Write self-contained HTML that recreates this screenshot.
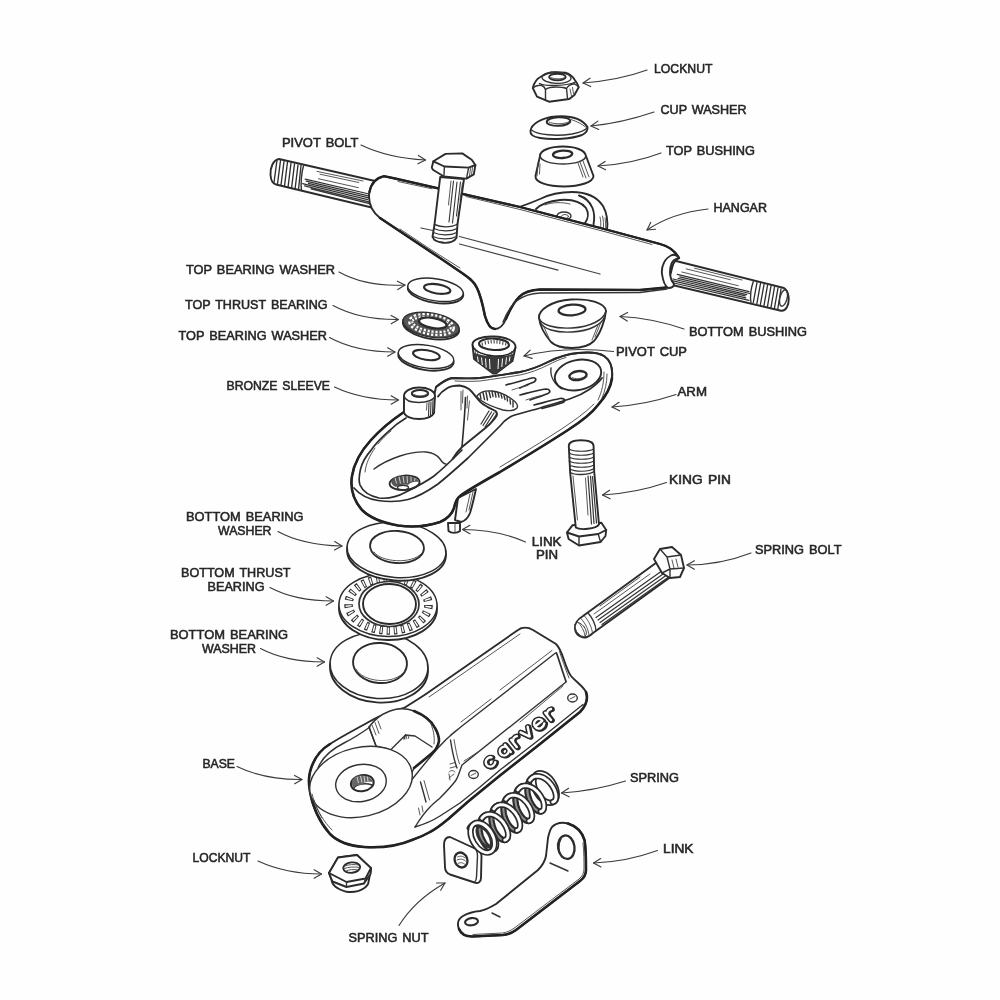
<!DOCTYPE html>
<html><head><meta charset="utf-8"><title>Truck exploded view</title>
<style>
html,body{margin:0;padding:0;background:#fefefe;}
body{width:1000px;height:1000px;overflow:hidden;font-family:"Liberation Sans",sans-serif;}
svg{display:block}
.t text{font-family:"Liberation Sans",sans-serif;font-size:12.6px;fill:#262626;stroke:#262626;stroke-width:.55px;word-spacing:1.5px;}
.a path{fill:none;stroke:#3c3c3c;stroke-width:1.15;stroke-linecap:round;stroke-linejoin:round}
.o{fill:none;stroke:#2b2b2b;stroke-width:1.9;stroke-linecap:round;stroke-linejoin:round}
.f{fill:#fefefe;stroke:#2b2b2b;stroke-width:1.9;stroke-linecap:round;stroke-linejoin:round}
.m{fill:none;stroke:#333;stroke-width:1.4;stroke-linecap:round;stroke-linejoin:round}
.fm{fill:#fefefe;stroke:#333;stroke-width:1.4;stroke-linecap:round;stroke-linejoin:round}
.h{fill:none;stroke:#444;stroke-width:.9;stroke-linecap:round;stroke-linejoin:round}
.k{fill:none;stroke:#222;stroke-width:2.6;stroke-linecap:round;stroke-linejoin:round}
.d{fill:#3a3a3a;stroke:none}
</style></head><body>
<svg width="1000" height="1000" viewBox="0 0 1000 1000">
<rect width="1000" height="1000" fill="#fefefe"/>
<!-- 10_hangar.svg -->
<g id="hangar">
<!-- bushing seat behind top edge -->
<path class="f" d="M516,208 C526,205 533,202 540,199 C550,194 560,192 572,192 C586,192 597,197 603,206 C607,213 608,222 607,231 L560,222 Z"/>
<path class="o" d="M536,209 C541,204 550,201 560,200 C572,199 581,202 586,208 C589,213 588,219 585,223"/>
<path class="o" d="M579,195.500 C585,197.500 590,202 592.500,208 C594.500,213 594.500,219 593.500,224.500"/>
<path class="h" d="M600,217 C601,221 601,225 600.500,228 M602.500,216 C603.500,220 603.800,225 603.300,229 M605,218 C605.800,222 605.800,226 605.500,230"/>
<path class="h" d="M545,205 C552,202 562,202 570,204"/>
<ellipse class="m" cx="564" cy="216" rx="7" ry="4"/>
<ellipse class="h" cx="565" cy="216.5" rx="3.5" ry="2"/>
<!-- left axle -->
<path class="f" d="M279,159 C273,160 270,168 270.500,175 C271,181 273,184 276,184.500 L380,209.500 L386,183.500 Z"/>
<path d="M277,160l-3,22.500 M280.500,160.500l-3,23.500 M284,161.500l-3,23.500 M287.500,162l-3,24 M291,163l-3,24.500 M294.500,164l-3,24.500 M298,165l-3,24.500 M301,165.500l-2.500,24" style="fill:none;stroke:#2e2e2e;stroke-width:1.35;stroke-linecap:round"/>
<path class="m" d="M303.500,166 C301.500,172 300.500,184 301.500,190.500"/>
<path d="M305.2,179.2 L371.2,194.5 M306.2,181.1 L370.3,196.3 M308.4,183.4 L374.9,199.4 M302.6,183.7 L367.6,199.6 M304.6,185.9 L372.8,202.9 M311.1,188.8 L370.4,203.8" style="fill:none;stroke:#333;stroke-width:1.25;stroke-linecap:round"/><path class="h" d="M317.0,171.4 L363.0,181.0 M320.0,174.2 L358.8,182.5 M318.4,178.7 L358.4,187.7"/>
<!-- right axle -->
<path class="f" d="M674,260.500 L784,288 C789,291 790,301 787,307 C785,310.500 783,311.500 780,310.500 L668,284 Z"/>
<path d="M757,282.500l-3.700,20 M760.500,283.500l-3.700,20.500 M764,284.500l-3.700,20.500 M767.500,285.500l-3.700,21 M771,286l-3.700,21.500 M774.500,287l-3.700,21.500 M778,288l-3.700,21 M781,289l-3.300,20.500" style="fill:none;stroke:#2e2e2e;stroke-width:1.35;stroke-linecap:round"/>
<path class="m" d="M753.500,281 C751,288 750,297 751,303"/>
<ellipse class="m" cx="783.500" cy="298" rx="3.600" ry="8.400" transform="rotate(14 783.500 298)"/>
<path d="M677.3,274.4 L749.1,291.6 M679.8,276.9 L749.8,293.5 M678.1,278.4 L746.8,294.6 M672.9,279.0 L745.3,295.9 M672.0,280.7 L745.8,297.8 M671.7,282.5 L749.0,300.3" style="fill:none;stroke:#333;stroke-width:1.25;stroke-linecap:round"/><path class="h" d="M694.5,268.2 L742.0,280.0 M686.2,268.9 L730.2,279.7 M681.8,272.0 L738.2,285.7"/>
<!-- body -->
<path class="f" d="M384,176.200 L395,178.500 L520,207 L608,230 L660,244 C668,246 675,251 679,258 C672,262 668,274 670,285 C668,287 667,287 664,288 L640,290 L540,289.500 C530,290 524,292 519,297 C513,303 509,312 506,319 C503,326 499,329 495,329 C490,329 487,323 485,316 C483,306 481,296 477,288 C474,281 468,277 462,273 L440,258 L380,218 C373,212.500 369,205 369,196.500 C369,187 374,178.500 384,176.200 Z"/>
<path class="k" d="M380,218 L440,258 L462,273 C468,277 474,281 477,288 C481,296 483,306 485,316 C487,323 490,329 495,329"/>
<path class="h" d="M400,229 L430,249 L460,268"/>
<path class="k" d="M369.500,192 C371,184 376,178 384,176.200 L395,178.500 L520,207 L608,230 L660,244 C668,246 675,251 679,258" style="stroke-width:2.3"/>
<path class="k" d="M506,319 C509,312 513,303 519,297 C524,292 530,290 540,289.500 L640,290 L666,287.500" style="stroke-width:2.3"/>
<path class="m" d="M503,322 C507,312 512,304 518,300 C524,295.500 531,293.500 540,293 L640,292.500 L667,289"/>
<!-- collar -->
<path class="f" d="M672,255 C665,258 661,266 662,274 C663,281 665,286 668,288 C672,288 674,286 674,284 C670,280 669,272 671,265 C672,261 675,259 679,258 C677,255 675,254 672,255 Z"/>
<!-- face lines -->
<path class="h" d="M421,228 L433,230.500 M459.500,236.500 L520,252.500 L600,274" style="stroke-width:1.25"/>
<path class="h" d="M459.500,244 L558,270.200" style="stroke-width:1.25"/>
<path class="h" d="M398,181.500 L432,188.800 M466,196.500 L520,209.500 L608,232.500 L652,244.500"/>
</g>

<!-- 20_topparts.svg -->
<g id="pivotbolt">
<!-- shaft -->
<path class="f" d="M440.200,177 L434.500,224.500 L432.500,237 C435,243 450,246 456.500,238 L457.500,224 L464,179 Z"/>
<path class="m" d="M434.500,224.500 C441,227.500 451,228 457.500,224"/>
<path d="M433.800,228.500 C440,231.500 451,232 457,228.500 M433.300,232.500 C440,235.500 450,236 456.800,232.500 M432.800,236.500 C439,239.500 450,240 456.500,236.500 M434,240 C440,243 449,243.500 455,240.500" style="fill:none;stroke:#333;stroke-width:1.150;stroke-linecap:round"/>
<path d="M453.500,181 L449,222 M457,182 L452.500,223 M460.500,182 L456.500,216" style="fill:none;stroke:#333;stroke-width:1.100;stroke-linecap:round"/>
<path class="h" d="M451,181 L448.500,205 M462.500,183 L460,200"/>
<!-- head -->
<path class="f" d="M431.800,167.600 L433.400,161.300 L445.500,153.900 L462.300,153.400 L471.700,159.700 L475.400,165 L473.800,174.400 L466.500,178.600 L443.900,176.500 L432.900,169.700 Z"/>
<path class="o" d="M433.400,161.300 L444.400,166.500 L468.600,167.600 L475.400,165"/>
<path class="m" d="M444.400,166.500 L443.900,176.500 M468.600,167.600 L466.500,178.600"/>
<path class="h" d="M470.500,168.500 L469.500,176 M472.500,167.500 L471.500,175"/>
</g>
<g id="locknut1">
<path class="f" d="M532.800,88 C534,82 538,78 542,76 C546,73.500 550,72.500 554,72.300 L566,72.800 C570,74 573,77 574.500,79.500 C576.500,82 578,85 578.700,87.200 L574.400,95 L569.300,99 L549,101.700 L537,96.600 Z"/>
<path class="m" d="M539.500,83.500 C545,86.500 568,86 575.500,82"/>
<path class="m" d="M532.800,88 C535,86 539,85 542,85.500 C544,86.500 545,88 545.500,89.500 L545.500,100.500"/>
<path class="m" d="M545.500,89.500 C548,87.500 552,87 556,87 C560,87 564,87.500 566.500,88.500 L567.600,99"/>
<path class="m" d="M566.500,88.500 C568,86 571,84 574.500,83.800 C576,84.500 578,86 578.700,87.200"/>
<ellipse class="m" cx="556.500" cy="77.800" rx="14.500" ry="5.600" transform="rotate(2 556.500 77.800)"/>
<ellipse class="o" cx="557.400" cy="77" rx="8.300" ry="3.300"/>
<path class="h" d="M551,77.500 C553,79 561,79.500 564,77.800"/>
<path class="h" d="M570,89 l1.500,7 M572.500,87.500 l1,6"/>
</g>
<g id="cupwasher">
<path class="f" d="M530.500,131 C531,124 542,117.500 556,116.500 C570,115.500 582,119 587.500,127 C588,130 586,133 582,135 C572,139 552,140 540,138 C534,137 530,134.500 530.500,131 Z"/>
<path class="m" d="M531.500,130 C538,135 556,136.500 572,134 C580,132.500 586,130 587.500,127"/>
<ellipse class="o" cx="558.500" cy="121.500" rx="11.800" ry="4.300" transform="rotate(-2 558.500 121.500)"/>
<path class="h" d="M571,119.500 C577,121.500 582,124 585.500,127"/>
<path class="h" d="M549,122 C553,124.500 565,124.500 569.500,121.500"/>
</g>
<g id="topbushing">
<path class="f" d="M540,156 C540,150 551,146.500 563,146.500 C575,146.500 585,150 586,156 L593.500,176 C593.500,182 580,186.500 564,186.500 C548,186.500 535,182.500 535.500,176 Z"/>
<path class="m" d="M540,156 C541,161 551,164 563,164 C575,164 585,161 586,156"/>
<ellipse class="o" cx="562.600" cy="154.300" rx="9.600" ry="3.700" transform="rotate(-4 562.600 154.300)" style="stroke-width:2.3"/>
<path class="h" d="M580,162 L586,178 M583,161 L589,177 M578,163 L583,177 M538,163 L537,176 M540,164 L539.500,174"/>
</g>
<g id="bottombushing">
<path class="f" d="M539,318 C538,310 552,300.500 571,299.500 C590,298.500 605,303 606,311 C605,321 600,334 594,341 C589,346 580,348 572,348 C563,348 555,346 551,342 C545,335 540,326 539,318 Z"/>
<path class="m" d="M539,318 C541,325 555,329 572,328 C590,327 604,320 606,311"/>
<path class="m" d="M540,322 C543,329 556,333 572,332 C589,331 602,325 605,316"/>
<ellipse class="o" cx="572" cy="310" rx="13.500" ry="5.300" transform="rotate(-4 572 310)" style="stroke-width:2.2"/>
<path class="h" d="M598,325 L592,340 M601,322 L595,337 M543,325 L549,338"/>
</g>
<g id="pivotcup">
<path class="f" d="M472.500,345 C472,339.500 482,336 494,336.500 C506,337 516,341 515.500,347.500 L512.500,361 L496,373.500 L493,373.500 L474,359 Z"/>
<path class="d" d="M473,352 L474,359 L493,373.500 L496,373.500 L512.500,361 L514.500,353 C508,357.500 482,357.500 473,352 Z"/>
<path class="m" d="M472.500,345 C474,352 485,355.500 494,356 C504,356.500 514,354 515.500,347.500" style="stroke:#222"/>
<ellipse cx="494" cy="344.300" rx="15" ry="5.700" transform="rotate(3 494 344.300)" style="fill:#fefefe;stroke:#2b2b2b;stroke-width:2.1"/>
<path d="M482,342.500l.5,3 M485,341l.5,3.500 M488,340.300l.5,3.500 M491,340l.3,3.500 M494,340l.2,3.500 M497,340.200l0,3.500 M500,340.600l-.2,3.500 M503,341.300l-.3,3.500 M506,342.500l-.5,3" style="fill:none;stroke:#333;stroke-width:1"/>
<path d="M477.500,356.500l.800,5.500 M481.500,357.500l.800,7.500 M485.500,358.500l.700,9 M489.500,359l.5,10 M498.500,359l-.500,10 M502.500,358.500l-.700,8.500 M506.500,357.500l-.800,7 M510,356.500l-.800,5" style="stroke:#fefefe;stroke-width:1;fill:none"/>
<path class="h" d="M475,348.500l.500,5 M477.500,350.500l.300,4.500 M511.500,351.500l-.300,4.500 M513.500,350l-.500,5"/>
</g>
<g id="topwashers">
<!-- washer 1 -->
<ellipse class="f" cx="435.500" cy="291.500" rx="28" ry="11.300" transform="rotate(9 435.500 291.500)"/>
<ellipse class="f" cx="435.500" cy="289.800" rx="28" ry="11" transform="rotate(9 435.500 289.800)" style="stroke-width:1.4"/>
<ellipse class="o" cx="437.200" cy="288.900" rx="13.300" ry="4.600" transform="rotate(9 437.200 288.900)" style="stroke-width:2.1"/>
<!-- thrust bearing -->
<ellipse class="f" cx="431" cy="326.500" rx="28.500" ry="12.300" transform="rotate(10 431 326.500)"/>
<ellipse cx="431" cy="325" rx="28.500" ry="12" transform="rotate(10 431 325)" style="fill:#555;stroke:#2b2b2b;stroke-width:1.4"/>
<ellipse cx="431.500" cy="324.600" rx="21" ry="8.300" transform="rotate(10 431.500 324.600)" style="fill:none;stroke:#fefefe;stroke-width:5.4;stroke-dasharray:2.2 1.9"/>
<ellipse cx="431.500" cy="324.600" rx="21" ry="8.300" transform="rotate(10 431.500 324.600)" style="fill:none;stroke:#555;stroke-width:.9;stroke-dasharray:2.2 1.9"/>
<ellipse cx="432.800" cy="323" rx="14" ry="5" transform="rotate(10 432.800 323)" style="fill:#fefefe;stroke:#2b2b2b;stroke-width:2.2"/>
<!-- washer 2 -->
<ellipse class="f" cx="426" cy="358.500" rx="28" ry="11.500" transform="rotate(9 426 358.500)"/>
<ellipse class="f" cx="426" cy="356.500" rx="28" ry="11.300" transform="rotate(9 426 356.500)" style="stroke-width:1.4"/>
<ellipse class="o" cx="426.400" cy="355" rx="13.500" ry="4.800" transform="rotate(9 426.400 355)" style="stroke-width:2.1"/>
</g>

<!-- 25_base.svg -->
<g id="base">
<!-- silhouette -->
<path class="f" d="M518,630 C522,627 528,627 533,630 L556,644 C560,648 562,654 564,660 C566,666 568,672 571,676 C576,682 583,686 586,692 C588,698 587,705 580,712 L540,744 L500,775.500 L470,800 C460,808.500 452,816 447,820 C441,825 436,829 430,832 C424,835.500 418,838 412,840 C398,846 380,848 364,847 C350,846 338,842 330,834 C322,826 316,814 312,802 C309,792 308,782 310,772 C313,760 320,750 330,744 C344,735 360,727 376,718 C386,713 396,710 404,708 C412,703 420,698 426,694 Z"/>
<!-- heavier bottom/right outline -->
<path class="k" d="M310,790 C312,804 318,820 330,834 C338,842 350,846 364,847 C380,848 398,846 412,840 C418,838 424,835.500 430,832 C436,829 441,825 447,820 C452,816 460,808.500 470,800 L500,775.500 L540,744 L580,712 C587,705 588,698 586,692"/>
<path class="k" d="M330,744 C320,750 313,760 310,772 C308,780 309,786 310,790" stroke-width="2"/>
<!-- top-left edge double -->
<path class="h" d="M429,697 L520,634"/>
<!-- flange thin bottom line -->
<path class="m" d="M415,827 C425,824 433,820.500 440,816 L460,803 L480,787 L500,770 L540,739 L583,704.500"/>
<!-- top face ridge, continuing into wall top edge -->
<path class="m" d="M555.500,653 L462,726 C456,731 452,734 450,736 C444,741 441,745 438,748 C430,757 422,767 414,777 C406,787 398,796 391,803"/>
<path class="h" d="M461,722 L491,699 M500,690 L552,650.500"/>
<!-- lower ridge and S-curve -->
<path class="m" d="M566,682 L462,765 C461,768 460,770 459.500,772 C458,776 457,779 455,781.500 C450,788 444,794 440,798 C436,801.500 433,804 430,807 C425,812 420,819 415,827"/>
<path class="h" d="M464,761 L478,752 M520,722 L563,686"/>
<path class="o" d="M556.500,653 C559,660 562,670 566,681.500" style="stroke-width:1.700"/>
<path class="h" d="M559.500,651.500 C562,659 565,668 569,678"/>
<!-- front-left vertical edge double lines -->
<path class="m" d="M450.500,740 C452,750 454,760 457,768"/>
<path class="h" d="M454,739.500 C455.500,748 457,757 459.500,764"/>
<path class="h" d="M450,764 l5,-1.500 M450,768 l6,-1.500 M449,772 c2,-2 4,-2 6,0 M449,778 l5,-4 M449,774 l1,6"/>
<!-- side face hatch -->
<path class="m" d="M420.500,782 L426,802"/>
<path class="h" d="M424,780.500 L429.500,800 M418.500,808 L420,815 M422,806 L423,812"/>
<!-- screws -->
<ellipse class="m" cx="572.500" cy="698" rx="4.800" ry="4"/>
<path class="h" d="M570,699 L575,696.500"/>
<ellipse class="m" cx="473.500" cy="774.500" rx="4.800" ry="4"/>
<path class="h" d="M471,775.500 L476,773"/>
<!-- carver lettering (outlined strokes) -->
<g transform="translate(490.500,762) rotate(-38.500) scale(1.05,1)" fill="none" stroke-linecap="round" stroke-linejoin="round">
<g stroke="#2b2b2b" stroke-width="5.200">
<path d="M3.500,-3 A4.600,4.600 0 1 0 3.500,3"/>
<path d="M21,0 A4.300,4.300 0 1 0 12.400,0 A4.300,4.300 0 1 0 21,0 M21,-4.500 L21,4.800"/>
<path d="M28.500,-4.500 L28.500,4.800 M28.500,-1 C29.500,-4.500 33,-5 35,-3.800"/>
<path d="M40,-4.500 L44.300,4.500 L48.600,-4.500"/>
<path d="M54.300,0 L63,0 C63,-6 54.300,-6 54.300,0 C54.300,6 60.500,6 63,3.200"/>
<path d="M70,-4.500 L70,4.800 M70,-1 C71,-4.500 74.500,-5 76.500,-3.800"/>
</g>
<g stroke="#2b2b2b" stroke-width="5.200" transform="translate(.6,1.100)">
<path d="M3.500,-3 A4.600,4.600 0 1 0 3.500,3"/>
<path d="M21,0 A4.300,4.300 0 1 0 12.400,0 A4.300,4.300 0 1 0 21,0 M21,-4.500 L21,4.800"/>
<path d="M28.500,-4.500 L28.500,4.800 M28.500,-1 C29.500,-4.500 33,-5 35,-3.800"/>
<path d="M40,-4.500 L44.300,4.500 L48.600,-4.500"/>
<path d="M54.300,0 L63,0 C63,-6 54.300,-6 54.300,0 C54.300,6 60.500,6 63,3.200"/>
<path d="M70,-4.500 L70,4.800 M70,-1 C71,-4.500 74.500,-5 76.500,-3.800"/>
</g>
<g stroke="#fefefe" stroke-width="2.300">
<path d="M3.500,-3 A4.600,4.600 0 1 0 3.500,3"/>
<path d="M21,0 A4.300,4.300 0 1 0 12.400,0 A4.300,4.300 0 1 0 21,0 M21,-4.500 L21,4.800"/>
<path d="M28.500,-4.500 L28.500,4.800 M28.500,-1 C29.500,-4.500 33,-5 35,-3.800"/>
<path d="M40,-4.500 L44.300,4.500 L48.600,-4.500"/>
<path d="M54.300,0 L63,0 C63,-6 54.300,-6 54.300,0 C54.300,6 60.500,6 63,3.200"/>
<path d="M70,-4.500 L70,4.800 M70,-1 C71,-4.500 74.500,-5 76.500,-3.800"/>
</g>
</g>
<!-- cavity -->
<path class="fm" d="M369,727 C374,720 382,714 390,711 C398,708 406,708 414,711 C424,715 431,720 435,728 C438,733 439,737 439,741 C438,747 435,751 431,754 C425,759 419,764 414,768 C413,770 412,772 412,774 L404,762 C398,754 386,748 376,746 Z"/>
<path class="k" d="M414,711 C424,715 431,720 435,728 C438,733 439,737 439,741 C438,747 435,751 431,754 C425,759 419,764 414,768" stroke-width="2.800"/>
<path class="m" d="M390,750.500 L405.500,735 L415,736 L432,747"/>
<path class="m" d="M405.500,735 L404,739"/>
<path class="h" d="M407,735.500 l-1,3.500 M409,735.800 l-.8,2.800"/>
<path class="h" d="M430,722 C433,728 435,736 434,744"/>
<path class="m" d="M369,727 L376,746"/>
<path class="h" d="M372,725 l4,10 M375,722.500 l4,11 M378,721 l3,8"/>
<!-- outer rim line -->
<path class="m" d="M318,768 C322,758 332,749 344,743 C354,738 363,732 370,727"/>
<!-- top disk -->
<ellipse class="fm" cx="361" cy="782" rx="52" ry="34.500" transform="rotate(-13 361 782)" stroke-width="1.600"/>
<ellipse class="m" cx="361" cy="783" rx="25.500" ry="18.500" transform="rotate(-10 361 783)"/>
<ellipse class="o" cx="362.300" cy="783.200" rx="11.500" ry="8" transform="rotate(-10 362.300 783.200)" style="stroke-width:2"/>
<path class="m" d="M354,787.500 C357,784 366,782.500 372,785"/>
<path d="M352,781 C353,777 358,775 363,775.500 C368,776 372,778.500 373,782 C368,781 364,782 361,785 C357,784.500 354,786 353,787.500 C352,785.500 351.500,783 352,781 Z" style="fill:#666;stroke:none"/>
<path d="M357,777l1.500,6 M360.500,776l1.500,6.500 M364,776l1,7 M367.500,777l.5,5" style="fill:none;stroke:#fefefe;stroke-width:.7"/>
<!-- left wall hatch -->
<path class="h" d="M314,800 C318,812 324,822 332,830 M312,794 C314,802 318,812 322,818"/>
</g>

<!-- 27_bottom.svg -->
<g id="bwasher2">
<ellipse class="f" cx="379" cy="669" rx="49" ry="33.500" transform="rotate(4 379 669)"/>
<ellipse class="f" cx="379" cy="665.500" rx="49" ry="33" transform="rotate(4 379 665.500)" style="stroke-width:1.5"/>
<ellipse class="o" cx="380" cy="663" rx="27" ry="20" transform="rotate(4 380 663)"/>
<path class="h" d="M356,669 C362,682 394,686 405,671"/>
</g>
<g id="bthrust">
<ellipse class="f" cx="388" cy="608.500" rx="49" ry="31.500" transform="rotate(1 388 608.500)"/>
<ellipse class="f" cx="388" cy="605" rx="49" ry="31.500" transform="rotate(1 388 605)" style="stroke-width:1.4"/>
<ellipse cx="388.500" cy="604.500" rx="40" ry="26" transform="rotate(1 388.500 604.500)" style="fill:none;stroke:#333;stroke-width:8.6;stroke-dasharray:3.2 4"/>
<ellipse cx="388.500" cy="604.500" rx="40" ry="26" transform="rotate(1 388.500 604.500)" style="fill:none;stroke:#fefefe;stroke-width:6;stroke-dasharray:1.4 5.8;stroke-dashoffset:-.9"/>
<ellipse class="fm" cx="389" cy="604" rx="30" ry="22.500" transform="rotate(1 389 604)" style="stroke-width:1.7"/>
<ellipse class="o" cx="389.500" cy="604" rx="26.500" ry="20" transform="rotate(1 389.500 604)"/>
</g>
<g id="bwasher1">
<ellipse class="f" cx="396.500" cy="553" rx="49.500" ry="27.500" transform="rotate(4 396.500 553)"/>
<ellipse class="f" cx="396.500" cy="550" rx="49.500" ry="27.500" transform="rotate(4 396.500 550)" style="stroke-width:1.5"/>
<ellipse class="o" cx="397" cy="547" rx="27" ry="16" transform="rotate(4 397 547)"/>
<path class="h" d="M374,552 C380,562 412,565 422,553"/>
</g>

<!-- 30_arm.svg -->
<g id="arm">
<!-- back leg + link pin (behind) -->
<path class="f" d="M458,498 L476,489 C474,498 472,507 470,513 C468,518 465,521 461,522 L455,520 Z"/>
<path class="h" d="M470,494 L466,512 M473,492 L469,510"/>
<path class="f" d="M448,523 L448.500,531 C451,533.500 457,533.500 460,531 L460,523 Z"/>
<path class="h" d="M455,524 L455,532"/>
<!-- whole silhouette -->
<path class="f" d="M404,412 C392,420 380,430 371,440 C361,451 354,463 352,476 C350,489 354,501 362,510 C370,518 384,523 398,525.500 C412,527.500 428,526 440,522 C447,519 452,514 454,508 C455,503 456,499 460,496 C468,490 484,481 500,472 C520,460 545,445 568,430 C582,421 592,413 598,405 C606,396 611,387 612,378 C613,368 610,360 604,356 C598,352 588,352 578,353 C566,354 556,358 548,362 C540,366 530,370 520,372 C508,374 494,376 480,378 C470,379 460,378 452,378 C446,379 441,383 436,387 L434,396 L404,397 Z"/>
<!-- heavy outline bottom -->
<path class="k" d="M404,412 C392,420 380,430 371,440 C361,451 354,463 352,476 C350,489 354,501 362,510 C370,518 384,523 398,525.500 C412,527.500 428,526 440,522 C447,519 452,514 454,508 C455,503 456,499 460,496 C468,490 484,481 500,472 C520,460 545,445 568,430 C582,421 592,413 598,405 C606,396 611,387 612,378"/>
<!-- top surface front rim (outer) -->
<path class="o" style="stroke-width:1.7" d="M354,488 C360,495 368,499 378,500.500 C388,502 398,502 408,499.500 C418,497 428,491 438,484 C448,476 458,467 468,458 C478,448 490,436 500,426 C504,421 508,418 512,416 C520,413 530,411 540,408 C552,404 562,402 572,398 C584,394 596,386 602,378"/>
<!-- inner rim -->
<path class="o" style="stroke-width:1.7" d="M406,418 C399,422 393,427 388,431.800 C381,438 375,444 371,450.400 C365,457 362,463 360.400,469.600 C359,476 358.500,481 360,485 C363,492 370,496 379,498 C388,499 397,497 406,492 C416,487 426,482 434,476 C444,468 452,460 462,450"/>
<!-- back rim inner line -->
<path class="o" d="M438,396.500 C441,392 444,390 447.500,388 C451,386 455,385.500 459.500,385.500 C463,386 466,387 469,389 C472,391.500 474,394.500 476.500,397.500 C479,401 482,404 486,406 C489,408 493,409.500 495.500,411 C497,412.500 497.500,414 496.500,416 C494,420 490,424 486,427.500 C478,434 470,440.500 462,447 C458,451 455,455 452.500,459"/>
<!-- bowl -->
<path class="m" d="M374,469 C382,463 391,459 400,456 C408,453.500 418,451.500 426,452 C432,452.500 437,455 440,459 C442,462 444,464 446,464"/>
<path class="h" d="M375,448 C370,455 366,463 365,472 M391,431 C386,435 382,439 378,444"/>
<ellipse class="o" cx="404.600" cy="482.800" rx="15" ry="7.200" transform="rotate(-4 404.600 482.800)"/>
<path d="M391,481 C394,477 402,475.500 408,476 C414,476.500 418,479 419,482 C414,481 410,482.500 408,485 C404,484 398,485 396,487 C393,486 391,483.500 391,481 Z" style="fill:#555;stroke:none"/>
<ellipse class="m" cx="403" cy="487.500" rx="5.500" ry="2.300"/>
<path d="M395,477.500l1.500,6 M399,476.500l1.500,7 M403,476l1,7 M407,476l.5,7 M411,476.500l0,5 M415,478l-.500,3" style="fill:none;stroke:#fefefe;stroke-width:.7"/>
<!-- bowl wall lines -->
<path class="o" d="M465.500,397.500 C465,410 463.500,430 462,446.500" style="stroke-width:1.6"/>
<path class="h" d="M461,391.500 L461,410 M463,390 L462.500,403 M469.500,401 L467.500,420 M467.500,396 L467,408"/>
<path d="M494,413 L485,427 M491.500,412 L483,425.500 M489,411 L481,424 M496,415 L489,425.500" style="fill:none;stroke:#333;stroke-width:1.2;stroke-linecap:round"/>
<!-- slot window -->
<path class="fm" d="M477,396 C480,392 486,390.500 492,391 C500,392 508,396 513,400 C517,403 518,406 517,408 C514,411 508,411 503,410 C496,408 488,405 482,401 C479,399 477,398 477,396 Z"/>
<path class="m" d="M480,394l1,5 M483,392.500l1.500,7 M486,392l1.500,8 M489,391.500l1.500,6 M492,391.500l1,5 M495,392l1,5 M498,393l1,4 M501,394l1,4 M504,395.500l1,4 M507,397l.500,4 M510,399l.500,5 M513,401l0,6"/>
<!-- fingers -->
<path class="o" style="stroke-width:1.7" d="M506,385 C514,383 524,380 532,378 C536,377 537,380 534,382 C528,384.500 524,386 520,388"/>
<path class="o" style="stroke-width:1.7" d="M520,395 C528,393 538,390 546,389 C550,389 551,392 548,393.500 C542,396 536,398 530,400"/>
<path class="o" style="stroke-width:1.7" d="M534,405 C542,403 552,400 560,398.500 C565,398 566,401 563,402.500 C556,405 548,407 542,408.500"/>
<path class="h" d="M512,390 C518,388 524,386 528,385.500 M526,400 C532,398 538,396 542,395.500"/>
<!-- top plate front edge -->
<!-- king pin seat -->
<path class="m" d="M551,368 C550,376 554,384 562,389"/>
<ellipse class="o" cx="578" cy="375" rx="23.500" ry="15" transform="rotate(-12 578 375)"/>
<ellipse class="o" cx="578" cy="375.600" rx="8.700" ry="4.400" transform="rotate(-8 578 375.600)" style="stroke-width:2.4"/>
<path class="h" d="M572,377.500 C575,379.500 582,379 585,376.500"/>
<!-- right thickness -->
<path class="h" d="M604,372 C604,382 602,392 598,400 M607,374 C607,383 605,391 602,398"/>
<path class="h" d="M594,404 C584,414 572,422 560,430 C540,443 520,455 500,467"/>
<path class="h" d="M455,381 C464,381.500 472,381.500 480,381 C494,379 508,377 520,375 C530,373 540,369 548,365 C554,362 560,359 566,357.500"/>
<!-- top outline emphasised -->
<path class="o" d="M436,387 C441,383 446,379 452,378 C460,378 470,379 480,378 C494,376 508,374 520,372 C530,370 540,366 548,362 C556,358 566,354 578,353 C588,352 598,352 604,356 C610,360 613,368 612,378"/>
</g>
<g id="sleeve">
<path class="f" d="M404,396 C404,391 411,387.500 419,387.500 C428,387.500 435,391 435,396 L434,413 C432,417 426,419 419,419 C412,419 406,417 404,413 Z"/>
<path class="m" d="M404,396 C405,400 411,402.500 419,402.500 C427,402.500 434,400 435,396"/>
<ellipse class="o" cx="420" cy="393.500" rx="8.200" ry="3.500" style="stroke-width:2"/>
<path class="h" d="M414,394.500 C417,396.500 424,396.500 427,394"/>
<path d="M429,402.500 L428.500,416 M431,402 L430.500,415.500 M433,400.500 L432.500,414.500" style="fill:none;stroke:#333;stroke-width:1.1;stroke-linecap:round"/>
<path class="h" d="M427,403 L426.500,410"/>
</g>
<g id="kingpin">
<!-- hex head -->
<path class="f" d="M567,532.500 L572.600,525.200 L601.400,522.800 L606.200,530 L605.500,536 L600.600,542 L579,545.500 L568.600,539 Z"/>
<path class="o" d="M567,532.500 L579,536.500 L598.200,534 L606.200,530"/>
<path class="m" d="M579,536.500 L579,545.500 M598.200,534 L600.600,542"/>
<!-- shaft -->
<path class="f" d="M568.800,446 C568.800,442 574.500,440.200 581,440.200 C588,440.200 593.400,442 593.600,446 L594.200,471.500 L599,524.500 C596,529 580,530.500 575.800,527.500 L570.200,473 Z"/>
<path class="m" d="M570.200,472.500 C575,475.500 589,475 594.200,471.500"/>
<path d="M568.900,449 C574,452 589,452 593.600,449 M568.900,453 C574,456 589,456 593.700,453 M569,457 C574,460 589,460 593.800,457 M569,461 C574,464 589,464 593.900,461 M569.500,465 C574,468 589,468 594,465 M570,469 C575,472 589,472 594.100,468.500" style="fill:none;stroke:#333;stroke-width:1.100;stroke-linecap:round"/>
<path d="M588,476 L591.500,524 M590.500,476 L594,523.500 M592.500,476.500 L596.500,523" style="fill:none;stroke:#333;stroke-width:1.200;stroke-linecap:round"/>
<path class="h" d="M585.500,478 L588,515 M573,476 L577.500,520"/>
</g>
<g id="springbolt">
<!-- shaft -->
<path class="f" d="M660,560 L583,616 C578,619 574,624 575,629 C576,635 582,639 587,637 C590,636 592,634 593,633 L672,576 Z"/>
<path class="m" d="M588,613 C592,617 596,625 596,631"/>
<path class="h" d="M584.500,616 C588,620 592,627 592.500,633.500 M581,618.500 C585,623 588.500,629 589,635.500 M578,622 C581,625 584.500,631 585.500,637"/>
<ellipse class="h" cx="580.500" cy="629.500" rx="4.500" ry="8" transform="rotate(-36 580.500 629.500)"/>
<path d="M598,620 L668,570.500 M600,622.500 L669.500,573 M596,617.500 L666,568 M602,624.500 L670,576" style="fill:none;stroke:#333;stroke-width:1.2;stroke-linecap:round"/>
<path class="h" d="M594,614 L650,574 M600,606 L640,577"/>
<!-- head -->
<path class="f" d="M654,559 L660,549 L672,547 L681,555 L684,568 L680,577 L670,578 L662,573 Z"/>
<path class="m" d="M660,549 L667,557 L670,569 L662,573 M667,557 L681,555 M670,569 L684,568 M670,569 L670,578"/>
<path class="h" d="M672,560 L674,568 M676,559 L678,567"/>
</g>

<!-- 60_misc.svg -->
<g id="locknut2">
<path class="f" d="M331.500,880 C332,885 338,889.500 346.500,891.800 C353,892.500 360,891 364,888.300 C367,886 368.500,884 368.500,882 L371,869 L357,855 L338,857.500 L329,873 Z"/>
<path class="f" d="M338,857.500 L357,855 L371,868 L370.500,874 L364,883.500 L346.500,887 L332.500,881.500 L329,873 Z"/>
<path class="o" d="M329,873 L346.500,882 L365.500,878.500 L371,868"/>
<path class="m" d="M346.500,882 L346.500,887 M365.500,878.500 L364,883.500"/>
<ellipse class="o" cx="351.700" cy="867.600" rx="8.500" ry="5.200" transform="rotate(-6 351.700 867.600)"/>
<path class="h" d="M345,866 C348,864.500 355,864 358.500,865 M344.500,868.500 C348,867 355,866.500 359.500,867.500 M346,871 C349,869.500 354,869 358,870"/>
</g>
<g id="springnut">
<path class="f" d="M444,845 C444,840 446,837 450,837 L476,849 C479,850.500 481.500,853 481.500,856 L481,878 C481,882 478,884 474.500,882.500 L450,874.500 C446.500,873 445,870 445,867 Z"/>
<path class="m" d="M476,849.500 C477,851.500 477.500,853 477.500,856 L476.500,877 C476.500,880 476,881 474.500,882.500"/>
<ellipse class="o" cx="461" cy="860" rx="6.300" ry="7.600" transform="rotate(-20 461 860)" style="stroke-width:2.3"/>
<path class="h" d="M457.500,857 C460,855.500 463,856 465,858 M457,860 C460,858.500 463.500,859 465.500,861 M458,863.500 C460.500,862 463,862.500 465,864.500"/>
</g>
<g id="spring" fill="none" stroke-linecap="round" stroke-linejoin="round">
<ellipse cx="545.1" cy="788.0" rx="9.6" ry="16.3" transform="rotate(-30.5 545.1 788.0)" stroke="#2b2b2b" stroke-width="6.3"/>
<ellipse cx="545.1" cy="788.0" rx="9.6" ry="16.3" transform="rotate(-30.5 545.1 788.0)" stroke="#fefefe" stroke-width="2.9"/>
<path d="M543.1,810.0 L542.4,810.8 L541.5,811.3 L540.5,811.5 L539.4,811.4 L538.1,811.0 L536.8,810.2 L535.5,809.2 L534.2,807.9 L532.9,806.3 L531.7,804.5 L530.6,802.5 L529.6,800.4 L528.8,798.1 L528.1,795.7 L527.6,793.3 L527.4,790.9 L527.4,788.6 L527.6,786.3 L528.0,784.2 L528.7,782.3 L529.5,780.6 L530.6,779.1 L531.9,777.9 L533.3,777.0" stroke="#2b2b2b" stroke-width="6.3"/>
<path d="M543.1,810.0 L542.4,810.8 L541.5,811.3 L540.5,811.5 L539.4,811.4 L538.1,811.0 L536.8,810.2 L535.5,809.2 L534.2,807.9 L532.9,806.3 L531.7,804.5 L530.6,802.5 L529.6,800.4 L528.8,798.1 L528.1,795.7 L527.6,793.3 L527.4,790.9 L527.4,788.6 L527.6,786.3 L528.0,784.2 L528.7,782.3 L529.5,780.6 L530.6,779.1 L531.9,777.9 L533.3,777.0" stroke="#8c8c8c" stroke-width="2.0999999999999996"/>
<path d="M531.2,819.5 L530.4,820.3 L529.6,820.8 L528.5,821.0 L527.4,820.9 L526.2,820.5 L524.9,819.7 L523.5,818.7 L522.2,817.4 L520.9,815.8 L519.7,814.0 L518.6,812.0 L517.6,809.9 L516.8,807.6 L516.1,805.2 L515.7,802.8 L515.4,800.4 L515.4,798.1 L515.6,795.9 L516.0,793.8 L516.7,791.8 L517.5,790.1 L518.6,788.7 L519.9,787.5 L521.3,786.5" stroke="#2b2b2b" stroke-width="6.3"/>
<path d="M531.2,819.5 L530.4,820.3 L529.6,820.8 L528.5,821.0 L527.4,820.9 L526.2,820.5 L524.9,819.7 L523.5,818.7 L522.2,817.4 L520.9,815.8 L519.7,814.0 L518.6,812.0 L517.6,809.9 L516.8,807.6 L516.1,805.2 L515.7,802.8 L515.4,800.4 L515.4,798.1 L515.6,795.9 L516.0,793.8 L516.7,791.8 L517.5,790.1 L518.6,788.7 L519.9,787.5 L521.3,786.5" stroke="#8c8c8c" stroke-width="2.0999999999999996"/>
<path d="M519.2,829.0 L518.5,829.8 L517.6,830.3 L516.6,830.5 L515.4,830.4 L514.2,830.0 L512.9,829.3 L511.6,828.2 L510.2,826.9 L508.9,825.4 L507.7,823.6 L506.6,821.6 L505.6,819.4 L504.8,817.1 L504.1,814.8 L503.7,812.4 L503.4,810.0 L503.4,807.6 L503.6,805.4 L504.0,803.3 L504.7,801.4 L505.6,799.6 L506.7,798.2 L507.9,797.0 L509.4,796.1" stroke="#2b2b2b" stroke-width="6.3"/>
<path d="M519.2,829.0 L518.5,829.8 L517.6,830.3 L516.6,830.5 L515.4,830.4 L514.2,830.0 L512.9,829.3 L511.6,828.2 L510.2,826.9 L508.9,825.4 L507.7,823.6 L506.6,821.6 L505.6,819.4 L504.8,817.1 L504.1,814.8 L503.7,812.4 L503.4,810.0 L503.4,807.6 L503.6,805.4 L504.0,803.3 L504.7,801.4 L505.6,799.6 L506.7,798.2 L507.9,797.0 L509.4,796.1" stroke="#8c8c8c" stroke-width="2.0999999999999996"/>
<path d="M507.2,838.5 L506.5,839.3 L505.6,839.8 L504.6,840.0 L503.4,839.9 L502.2,839.5 L500.9,838.8 L499.6,837.8 L498.3,836.4 L497.0,834.9 L495.8,833.1 L494.6,831.1 L493.6,828.9 L492.8,826.6 L492.2,824.3 L491.7,821.9 L491.5,819.5 L491.4,817.1 L491.6,814.9 L492.1,812.8 L492.7,810.9 L493.6,809.2 L494.7,807.7 L495.9,806.5 L497.4,805.6" stroke="#2b2b2b" stroke-width="6.3"/>
<path d="M507.2,838.5 L506.5,839.3 L505.6,839.8 L504.6,840.0 L503.4,839.9 L502.2,839.5 L500.9,838.8 L499.6,837.8 L498.3,836.4 L497.0,834.9 L495.8,833.1 L494.6,831.1 L493.6,828.9 L492.8,826.6 L492.2,824.3 L491.7,821.9 L491.5,819.5 L491.4,817.1 L491.6,814.9 L492.1,812.8 L492.7,810.9 L493.6,809.2 L494.7,807.7 L495.9,806.5 L497.4,805.6" stroke="#8c8c8c" stroke-width="2.0999999999999996"/>
<path d="M495.2,848.1 L494.5,848.8 L493.6,849.4 L492.6,849.6 L491.5,849.4 L490.2,849.0 L488.9,848.3 L487.6,847.3 L486.3,846.0 L485.0,844.4 L483.8,842.6 L482.7,840.6 L481.7,838.4 L480.8,836.1 L480.2,833.8 L479.7,831.4 L479.5,829.0 L479.4,826.7 L479.6,824.4 L480.1,822.3 L480.7,820.4 L481.6,818.7 L482.7,817.2 L484.0,816.0 L485.4,815.1" stroke="#2b2b2b" stroke-width="6.3"/>
<path d="M495.2,848.1 L494.5,848.8 L493.6,849.4 L492.6,849.6 L491.5,849.4 L490.2,849.0 L488.9,848.3 L487.6,847.3 L486.3,846.0 L485.0,844.4 L483.8,842.6 L482.7,840.6 L481.7,838.4 L480.8,836.1 L480.2,833.8 L479.7,831.4 L479.5,829.0 L479.4,826.7 L479.6,824.4 L480.1,822.3 L480.7,820.4 L481.6,818.7 L482.7,817.2 L484.0,816.0 L485.4,815.1" stroke="#8c8c8c" stroke-width="2.0999999999999996"/>
<path d="M529.7,780.3 L530.9,778.8 L532.3,777.6 L533.9,776.7 L535.6,776.2 L537.5,776.1 L539.4,776.3 L541.4,776.8 L543.4,777.6 L545.3,778.8 L547.2,780.2 L549.0,781.8 L550.6,783.7 L552.1,785.6 L553.3,787.7 L554.4,789.8 L555.1,791.8 L555.7,793.8 L556.0,795.7 L556.0,797.4 L555.8,798.9 L555.3,800.1 L554.7,801.0 L553.8,801.7 L552.7,802.0" stroke="#2b2b2b" stroke-width="6.3"/>
<path d="M529.7,780.3 L530.9,778.8 L532.3,777.6 L533.9,776.7 L535.6,776.2 L537.5,776.1 L539.4,776.3 L541.4,776.8 L543.4,777.6 L545.3,778.8 L547.2,780.2 L549.0,781.8 L550.6,783.7 L552.1,785.6 L553.3,787.7 L554.4,789.8 L555.1,791.8 L555.7,793.8 L556.0,795.7 L556.0,797.4 L555.8,798.9 L555.3,800.1 L554.7,801.0 L553.8,801.7 L552.7,802.0" stroke="#fefefe" stroke-width="2.9"/>
<path d="M517.8,789.8 L519.0,788.3 L520.4,787.1 L521.9,786.3 L523.7,785.8 L525.5,785.6 L527.5,785.8 L529.4,786.3 L531.4,787.2 L533.4,788.3 L535.2,789.7 L537.0,791.4 L538.6,793.2 L540.1,795.1 L541.3,797.2 L542.4,799.3 L543.2,801.3 L543.7,803.3 L544.0,805.2 L544.0,806.9 L543.8,808.4 L543.4,809.6 L542.7,810.6 L541.8,811.2 L540.7,811.5" stroke="#2b2b2b" stroke-width="6.3"/>
<path d="M517.8,789.8 L519.0,788.3 L520.4,787.1 L521.9,786.3 L523.7,785.8 L525.5,785.6 L527.5,785.8 L529.4,786.3 L531.4,787.2 L533.4,788.3 L535.2,789.7 L537.0,791.4 L538.6,793.2 L540.1,795.1 L541.3,797.2 L542.4,799.3 L543.2,801.3 L543.7,803.3 L544.0,805.2 L544.0,806.9 L543.8,808.4 L543.4,809.6 L542.7,810.6 L541.8,811.2 L540.7,811.5" stroke="#fefefe" stroke-width="2.9"/>
<path d="M505.8,799.3 L507.0,797.8 L508.4,796.6 L510.0,795.8 L511.7,795.3 L513.5,795.1 L515.5,795.3 L517.4,795.8 L519.4,796.7 L521.4,797.8 L523.3,799.2 L525.0,800.9 L526.7,802.7 L528.1,804.7 L529.4,806.7 L530.4,808.8 L531.2,810.9 L531.7,812.8 L532.0,814.7 L532.1,816.4 L531.8,817.9 L531.4,819.1 L530.7,820.1 L529.8,820.7 L528.8,821.0" stroke="#2b2b2b" stroke-width="6.3"/>
<path d="M505.8,799.3 L507.0,797.8 L508.4,796.6 L510.0,795.8 L511.7,795.3 L513.5,795.1 L515.5,795.3 L517.4,795.8 L519.4,796.7 L521.4,797.8 L523.3,799.2 L525.0,800.9 L526.7,802.7 L528.1,804.7 L529.4,806.7 L530.4,808.8 L531.2,810.9 L531.7,812.8 L532.0,814.7 L532.1,816.4 L531.8,817.9 L531.4,819.1 L530.7,820.1 L529.8,820.7 L528.8,821.0" stroke="#fefefe" stroke-width="2.9"/>
<path d="M493.8,808.8 L495.0,807.3 L496.4,806.2 L498.0,805.3 L499.7,804.8 L501.6,804.6 L503.5,804.8 L505.5,805.3 L507.4,806.2 L509.4,807.3 L511.3,808.8 L513.0,810.4 L514.7,812.2 L516.1,814.2 L517.4,816.2 L518.4,818.3 L519.2,820.4 L519.8,822.4 L520.0,824.2 L520.1,825.9 L519.9,827.4 L519.4,828.6 L518.7,829.6 L517.8,830.2 L516.8,830.5" stroke="#2b2b2b" stroke-width="6.3"/>
<path d="M493.8,808.8 L495.0,807.3 L496.4,806.2 L498.0,805.3 L499.7,804.8 L501.6,804.6 L503.5,804.8 L505.5,805.3 L507.4,806.2 L509.4,807.3 L511.3,808.8 L513.0,810.4 L514.7,812.2 L516.1,814.2 L517.4,816.2 L518.4,818.3 L519.2,820.4 L519.8,822.4 L520.0,824.2 L520.1,825.9 L519.9,827.4 L519.4,828.6 L518.7,829.6 L517.8,830.2 L516.8,830.5" stroke="#fefefe" stroke-width="2.9"/>
<path d="M481.8,818.3 L483.0,816.9 L484.4,815.7 L486.0,814.8 L487.7,814.3 L489.6,814.1 L491.5,814.3 L493.5,814.9 L495.5,815.7 L497.4,816.9 L499.3,818.3 L501.1,819.9 L502.7,821.7 L504.1,823.7 L505.4,825.7 L506.4,827.8 L507.2,829.9 L507.8,831.9 L508.1,833.7 L508.1,835.4 L507.9,836.9 L507.4,838.2 L506.7,839.1 L505.9,839.7 L504.8,840.0" stroke="#2b2b2b" stroke-width="6.3"/>
<path d="M481.8,818.3 L483.0,816.9 L484.4,815.7 L486.0,814.8 L487.7,814.3 L489.6,814.1 L491.5,814.3 L493.5,814.9 L495.5,815.7 L497.4,816.9 L499.3,818.3 L501.1,819.9 L502.7,821.7 L504.1,823.7 L505.4,825.7 L506.4,827.8 L507.2,829.9 L507.8,831.9 L508.1,833.7 L508.1,835.4 L507.9,836.9 L507.4,838.2 L506.7,839.1 L505.9,839.7 L504.8,840.0" stroke="#fefefe" stroke-width="2.9"/>
<path d="M469.8,827.9 L471.0,826.4 L472.4,825.2 L474.0,824.3 L475.7,823.8 L477.6,823.7 L479.5,823.9 L481.5,824.4 L483.5,825.2 L485.4,826.4 L487.3,827.8 L489.1,829.4 L490.7,831.2 L492.2,833.2 L493.4,835.3 L494.5,837.3 L495.2,839.4 L495.8,841.4 L496.1,843.3 L496.1,845.0 L495.9,846.4 L495.4,847.7 L494.8,848.6 L493.9,849.2 L492.8,849.5" stroke="#2b2b2b" stroke-width="6.3"/>
<path d="M469.8,827.9 L471.0,826.4 L472.4,825.2 L474.0,824.3 L475.7,823.8 L477.6,823.7 L479.5,823.9 L481.5,824.4 L483.5,825.2 L485.4,826.4 L487.3,827.8 L489.1,829.4 L490.7,831.2 L492.2,833.2 L493.4,835.3 L494.5,837.3 L495.2,839.4 L495.8,841.4 L496.1,843.3 L496.1,845.0 L495.9,846.4 L495.4,847.7 L494.8,848.6 L493.9,849.2 L492.8,849.5" stroke="#fefefe" stroke-width="2.9"/>
<ellipse cx="482.5" cy="837.7" rx="10.1" ry="16.3" transform="rotate(-30.5 482.5 837.7)" stroke="#2b2b2b" stroke-width="6.3"/>
<ellipse cx="482.5" cy="837.7" rx="10.1" ry="16.3" transform="rotate(-30.5 482.5 837.7)" stroke="#fefefe" stroke-width="2.9"/>
<ellipse cx="484.0" cy="836.7" rx="5.199999999999999" ry="11.100000000000001" transform="rotate(-30.5 484.0 836.7)" stroke="#333" stroke-width="2.6"/>
</g>
<g id="link">
<path class="f" d="M552,827 C556,823 562,822 568,823.500 C576,826 582,832 584.500,840 C586,848 586,860 586,870 C586,875 584,878 580,881 L516,930 C512,933 508,934.500 503,935 L472,936.500 C466,936.500 461,934 459,929 C457,924 458,919 463,916 C468,913 474,911.500 480,911 C486,910 491,907 496,904 L538,870 C542,866 545,861 546,856 L548,838 C549,833 550,830 552,827 Z"/>
<path class="k" d="M568,823.500 C576,826 582,832 584.500,840 C586,848 586,860 586,870 C586,875 584,878 580,881 L516,930 C512,933 508,934.500 503,935 L472,936.500 C466,936.500 461,934 459,929"/>
<ellipse class="o" cx="566.300" cy="847.200" rx="8.200" ry="11.800" transform="rotate(-8 566.300 847.200)" style="stroke-width:2.3"/>
<path class="m" d="M561,839 C558,844 558,852 562,857"/>
<ellipse class="o" cx="471.500" cy="921.700" rx="6.500" ry="3.600" transform="rotate(-8 471.500 921.700)" style="stroke-width:2.1"/>
<path class="m" d="M550,863 L568,871 M492,913 L500,917"/>
<path class="h" d="M583,843 C584,852 584,862 584,869 C584,873 582,876.500 579,879 L515,927.500 C511,930.500 507,932.500 502.500,933 L473,934.500"/>
</g>

<g class="a">
<path d="M647,70 Q620,80 583,83"/><path d="M590.0,78.2 L583,83 L590.7,86.6"/>
<path d="M654,112 Q622,123 591,126"/><path d="M597.9,121.1 L591,126 L598.7,129.5"/>
<path d="M661,153 Q632,164 598,166"/><path d="M605.1,161.4 L598,166 L605.6,169.8"/>
<path d="M708,209 Q672,213 647,230"/><path d="M650.7,222.4 L647,230 L655.5,229.3"/>
<path d="M684,329 Q652,318 620,316.5"/><path d="M627.6,312.6 L620,316.5 L627.2,321.1"/>
<path d="M613.5,351.5 Q565,346 524,356"/><path d="M530.2,350.1 L524,356 L532.2,358.4"/>
<path d="M361,145 Q388,158 425.5,160"/><path d="M417.9,163.8 L425.5,160 L418.4,155.4"/>
<path d="M339,272 Q366,287 405,285"/><path d="M397.8,289.6 L405,285 L397.4,281.2"/>
<path d="M333,305.5 Q360,320 398.5,319.5"/><path d="M391.2,323.8 L398.5,319.5 L391.1,315.4"/>
<path d="M329.5,337.5 Q356,352 395,352"/><path d="M387.6,356.2 L395,352 L387.6,347.8"/>
<path d="M334.5,387 Q362,400 398.5,400"/><path d="M391.1,404.2 L398.5,400 L391.1,395.8"/>
<path d="M676,394.5 Q645,405 612,407"/><path d="M619.1,402.3 L612,407 L619.6,410.8"/>
<path d="M666.5,482.5 Q636,493 602.5,495"/><path d="M609.6,490.3 L602.5,495 L610.1,498.8"/>
<path d="M751,553 Q720,565 687,565"/><path d="M694.4,560.8 L687,565 L694.4,569.2"/>
<path d="M525.5,542 Q497,529.5 462.5,529.5"/><path d="M469.9,525.3 L462.5,529.5 L469.9,533.7"/>
<path d="M278,531.5 Q302,545 342,546"/><path d="M334.5,550.0 L342,546 L334.7,541.6"/>
<path d="M270,587.5 Q295,601 333.5,601"/><path d="M326.1,605.2 L333.5,601 L326.1,596.8"/>
<path d="M260.5,648.5 Q286,662 324.5,662"/><path d="M317.1,666.2 L324.5,662 L317.1,657.8"/>
<path d="M237,766.5 Q265,780 302,779.5"/><path d="M294.7,783.8 L302,779.5 L294.6,775.4"/>
<path d="M258,861 Q286,874 321.5,874"/><path d="M314.1,878.2 L321.5,874 L314.1,869.8"/>
<path d="M399,925.5 Q415,900 445,883"/><path d="M440.7,890.3 L445,883 L436.5,883.0"/>
<path d="M625.5,781 Q594,791 561.5,793"/><path d="M568.6,788.3 L561.5,793 L569.1,796.8"/>
<path d="M657.5,850.5 Q626,862 593.5,863"/><path d="M600.7,858.6 L593.5,863 L601.0,867.0"/>
</g>
<g class="t" style="filter:grayscale(1)">
<text x="654" y="72.7" textLength="58.5" lengthAdjust="spacingAndGlyphs">LOCKNUT</text>
<text x="660.5" y="114.3" textLength="86.0" lengthAdjust="spacingAndGlyphs">CUP WASHER</text>
<text x="666" y="154.7" textLength="89.0" lengthAdjust="spacingAndGlyphs">TOP BUSHING</text>
<text x="713.5" y="211.7" textLength="53.5" lengthAdjust="spacingAndGlyphs">HANGAR</text>
<text x="689" y="335.7" textLength="118.0" lengthAdjust="spacingAndGlyphs">BOTTOM BUSHING</text>
<text x="616" y="355.7" textLength="71.0" lengthAdjust="spacingAndGlyphs">PIVOT CUP</text>
<text x="282" y="147.2" textLength="76.5" lengthAdjust="spacingAndGlyphs">PIVOT BOLT</text>
<text x="186" y="273.7" textLength="149.0" lengthAdjust="spacingAndGlyphs">TOP BEARING WASHER</text>
<text x="185" y="309.2" textLength="142.5" lengthAdjust="spacingAndGlyphs">TOP THRUST BEARING</text>
<text x="178.5" y="340.2" textLength="148.5" lengthAdjust="spacingAndGlyphs">TOP BEARING WASHER</text>
<text x="226.5" y="389.7" textLength="103.5" lengthAdjust="spacingAndGlyphs">BRONZE SLEEVE</text>
<text x="677.5" y="396.2" textLength="29.5" lengthAdjust="spacingAndGlyphs">ARM</text>
<text x="669" y="484.2" textLength="62.0" lengthAdjust="spacingAndGlyphs">KING PIN</text>
<text x="755" y="553.7" textLength="86.5" lengthAdjust="spacingAndGlyphs">SPRING BOLT</text>
<text x="531.7" y="545.5" textLength="29.9" lengthAdjust="spacingAndGlyphs">LINK</text>
<text x="536" y="558.8000000000001" textLength="22.1" lengthAdjust="spacingAndGlyphs">PIN</text>
<text x="186" y="520.7" textLength="117.5" lengthAdjust="spacingAndGlyphs">BOTTOM BEARING</text>
<text x="218" y="534.7" textLength="53.5" lengthAdjust="spacingAndGlyphs">WASHER</text>
<text x="181" y="577.2" textLength="109.5" lengthAdjust="spacingAndGlyphs">BOTTOM THRUST</text>
<text x="207.5" y="590.7" textLength="57.0" lengthAdjust="spacingAndGlyphs">BEARING</text>
<text x="170" y="639.3000000000001" textLength="118.0" lengthAdjust="spacingAndGlyphs">BOTTOM BEARING</text>
<text x="202" y="652.7" textLength="54.0" lengthAdjust="spacingAndGlyphs">WASHER</text>
<text x="202.5" y="767.7" textLength="32.5" lengthAdjust="spacingAndGlyphs">BASE</text>
<text x="192.5" y="861.7" textLength="58.0" lengthAdjust="spacingAndGlyphs">LOCKNUT</text>
<text x="348.5" y="941.7" textLength="80.0" lengthAdjust="spacingAndGlyphs">SPRING NUT</text>
<text x="630" y="782.2" textLength="49.0" lengthAdjust="spacingAndGlyphs">SPRING</text>
<text x="663" y="852.7" textLength="30.5" lengthAdjust="spacingAndGlyphs">LINK</text>
</g>
</svg>
</body></html>
